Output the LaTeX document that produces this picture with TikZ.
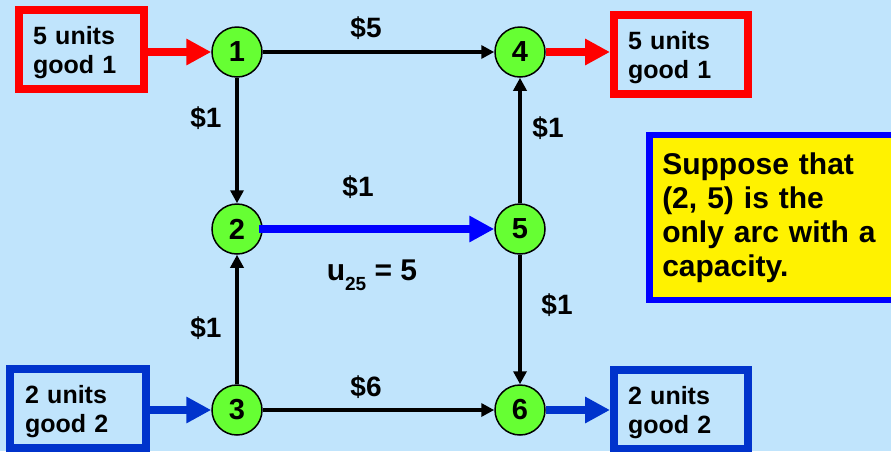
\documentclass[tikz,border=0pt]{standalone}
\usepackage{fontspec}
\setmainfont{Liberation Sans}
\usetikzlibrary{arrows.meta}
\definecolor{bgblue}{RGB}{192,228,252}
\definecolor{nodegreen}{RGB}{102,255,51}
\definecolor{boxblue}{RGB}{0,51,204}
\definecolor{arcblue}{RGB}{0,0,255}
\newcommand{\boxtext}[2]{\raisebox{-4pt}[\height][\depth]{\begin{tabular}{@{}l@{}}#1\\#2\end{tabular}}}
\tikzset{
  netnode/.style={circle,draw=black,line width=1.5pt,fill=nodegreen,minimum size=50pt,inner sep=0pt,
    font=\fontsize{29}{29}\selectfont\bfseries},
  supbox/.style={rectangle,line width=8pt,minimum width=125pt,minimum height=79pt,inner xsep=14pt,
    text width=97pt,align=left,font=\fontsize{25}{29}\selectfont\bfseries},
  costlab/.style={inner sep=0pt,font=\fontsize{28}{28}\selectfont\bfseries},
  blackarc/.style={draw=black,line width=3.5pt,-{Triangle[length=13pt,width=13pt]}},
  fatarc/.style={line width=8.5pt,-{Triangle[length=25pt,width=25pt]}},
}
\begin{document}
\begin{tikzpicture}[x=1pt,y=-1pt]
\fill[bgblue] (0,0) rectangle (891,451);
\useasboundingbox (0,0) rectangle (891,451);
% network nodes
\node[netnode] (n1) at (237,52) {1};
\node[netnode] (n4) at (520,52) {4};
\node[netnode] (n2) at (237,229) {2};
\node[netnode] (n5) at (520,229) {5};
\node[netnode] (n3) at (237,410) {3};
\node[netnode] (n6) at (520,410) {6};
% supply / demand boxes
\node[supbox,draw=red] (s1) at (81.5,49.5) {\boxtext{5 units}{good 1}};
\node[supbox,draw=red,minimum width=134pt,text width=106pt] (d1) at (681,54.5) {\boxtext{5 units}{good 1}};
\node[supbox,draw=boxblue,minimum width=134pt,text width=106pt,inner xsep=15pt] (s2) at (78,408.5) {\boxtext{2 units}{good 2}};
\node[supbox,draw=boxblue,minimum width=134pt,text width=106pt] (d2) at (681,409.5) {\boxtext{2 units}{good 2}};
% note box
\node[rectangle,draw=arcblue,fill=yellow,line width=6.5pt,anchor=west,minimum width=262pt,minimum height=165pt,
  inner xsep=13pt,text width=236pt,align=left,font=\fontsize{30}{34}\selectfont\bfseries] (note) at (646,217.5)
  {Suppose that\\(2, 5) is the\\only arc with a\\capacity.};
% arcs
\draw[blackarc] (n1) -- (n4);
\draw[blackarc] (n1) -- (n2);
\draw[blackarc] (n3) -- (n2);
\draw[blackarc] (n3) -- (n6);
\draw[blackarc] (n5) -- (n4);
\draw[blackarc] (n5) -- (n6);
\draw[fatarc,arcblue] ([xshift=-4pt]n2.east) -- (n5.west);
\draw[fatarc,red] (s1.east |- n1.west) -- (n1.west);
\draw[fatarc,red] (n4.east) -- (d1.west |- n4.east);
\draw[fatarc,boxblue] (s2.east |- n3.west) -- (n3.west);
\draw[fatarc,boxblue] (n6.east) -- (d2.west |- n6.east);
% cost labels
\node[costlab] (c14) at (366,28) {\$5};
\node[costlab] (c12) at (206,118) {\$1};
\node[costlab] (c54) at (548,128) {\$1};
\node[costlab] (c25) at (358,187) {\$1};
\node[costlab] (c32) at (206,328) {\$1};
\node[costlab] (c56) at (557,305) {\$1};
\node[costlab] (c36) at (366,387) {\$6};
\node[costlab,anchor=base,font=\fontsize{30}{30}\selectfont\bfseries] (u25) at (372,280) {u\raisebox{-10pt}{\fontsize{19}{19}\selectfont 25} = 5};
\end{tikzpicture}
\end{document}
